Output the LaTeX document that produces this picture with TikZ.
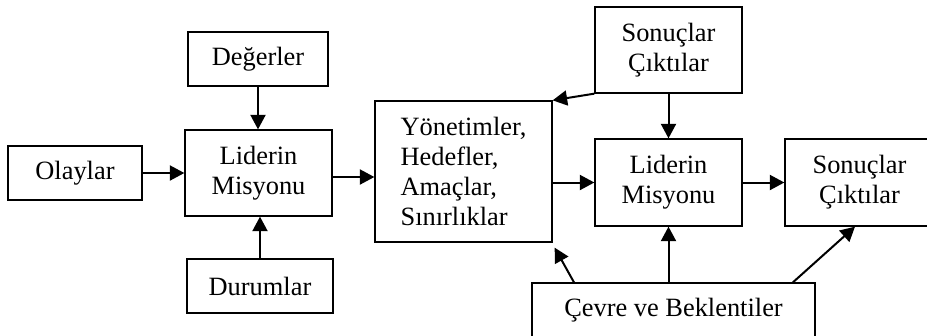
\documentclass[tikz,border=0pt]{standalone}
\usepackage{fontspec}
\setmainfont{Liberation Serif}
\usetikzlibrary{arrows.meta,calc}
\begin{document}
\begin{tikzpicture}[x=1pt,y=-1pt,
    box/.style={draw,line width=1.3pt,inner sep=0pt,align=center,
      font=\fontsize{26.4}{30}\selectfont},
    flow/.style={line width=2pt,-{Triangle[length=14.5pt,width=15pt]}}]
\useasboundingbox (0,0) rectangle (927,335);
\clip (0,0) rectangle (927,335);

% Left part: the leader's mission and its inputs
\node[box,minimum width=140,minimum height=54] (deg) at (258,59) {De\u{g}erler};
\node[box,minimum width=134,minimum height=54] (olay) at (75,173) {Olaylar};
\node[box,minimum width=147,minimum height=86] (lm1) at (258.5,173) {Liderin\\Misyonu};
\node[box,minimum width=146,minimum height=54] (dur) at (260,286) {Durumlar};

% Middle box
\node[box,align=left,minimum width=177,minimum height=141] (yon) at (463.5,171.5)
  {Yönetimler,\\Hedefler,\\Amaçlar,\\Sınırlıklar};

% Right part
\node[box,minimum width=147,minimum height=86] (son1) at (668.5,50) {Sonuçlar\\Çıktılar};
\node[box,minimum width=147,minimum height=87] (lm2) at (668.5,182.5) {Liderin\\Misyonu};
\node[box,minimum width=149,minimum height=87] (son2) at (859.5,182.5) {Sonuçlar\\Çıktılar};
\node[box,minimum width=283,minimum height=54] (cev) at (673.5,310) {Çevre ve Beklentiler};

% Points on the lower box where the slanted arrows start
\coordinate (cevL) at ($(cev.north west)!0.15!(cev.north east)$);
\coordinate (cevR) at ($(cev.north west)!0.92!(cev.north east)$);

% Arrows
\draw[flow] (deg.south) -- (deg.south |- lm1.north);
\draw[flow] (olay) -- (lm1);
\draw[flow] (dur.north) -- (dur.north |- lm1.south);
\draw[flow] ($(lm1.east)+(0,4)$) -- ($(lm1.east -| yon.west)+(0,4)$);
\draw[flow] (son1.south west) -- (yon.north east);
\draw[flow] (son1) -- (lm2);
\draw[flow] (yon.east |- lm2.west) -- (lm2.west);
\draw[flow] (lm2) -- (son2);
\draw[flow] (cevL) -- ($(yon.south east)+(2,5)$);
\draw[flow] (lm2.south |- cev.north) -- (lm2.south);
\draw[flow] (cevR) -- ($(son2.south west)!0.47!(son2.south east)$);
\end{tikzpicture}
\end{document}
